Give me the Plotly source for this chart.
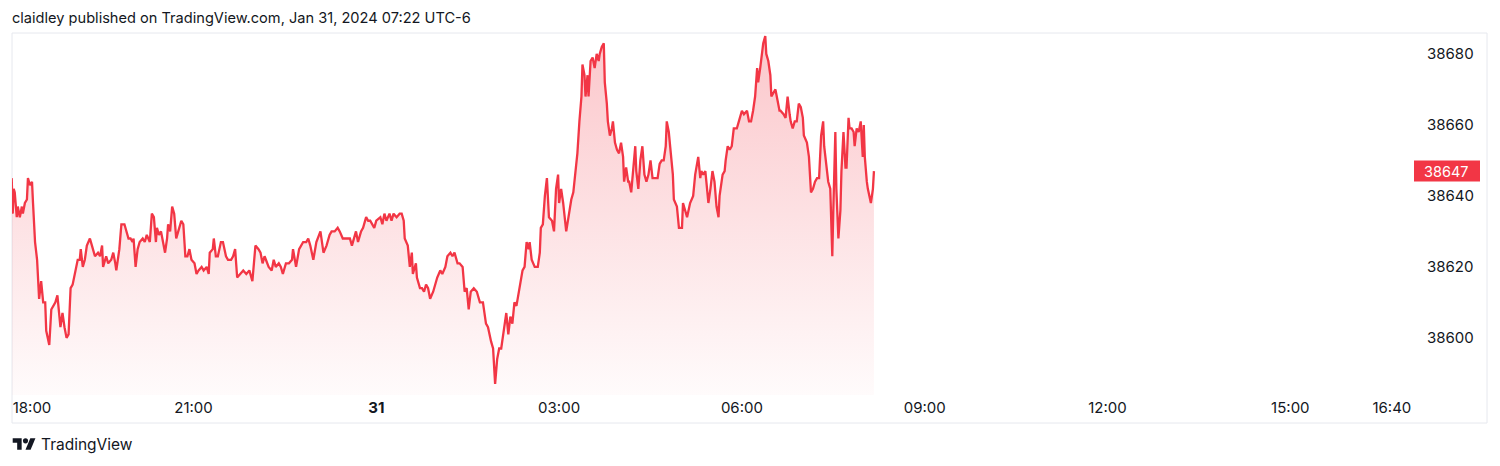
import pandas as pd
import plotly.graph_objects as go

# ---------------- data ----------------
SESSION_START = "2024-01-30 18:00"
# minutes after session start
minute_offsets = [
    1, 2, 3, 4, 6, 7, 9, 11, 12, 14, 16, 17, 19, 21, 22, 24, 26, 27, 28, 30,
    32, 34, 35, 38, 40, 44, 46, 49, 51, 53, 55, 57, 59, 61, 63, 66, 68, 69, 71, 73,
    75, 78, 80, 83, 86, 88, 90, 91, 94, 96, 99, 101, 103, 104, 107, 109, 112, 114, 116, 118,
    120, 121, 123, 125, 127, 130, 132, 134, 137, 139, 141, 143, 144, 146, 148, 150, 152, 154, 155, 157,
    159, 161, 163, 165, 168, 170, 172, 174, 176, 178, 181, 183, 185, 188, 190, 193, 195, 196, 199, 200,
    202, 204, 207, 209, 212, 214, 217, 219, 221, 223, 226, 229, 232, 235,
    238, 241, 244, 246, 248, 250, 254, 257, 259, 261, 264, 266, 268, 271, 274, 277, 278, 281, 284, 288,
    291, 293, 295, 298, 301, 305, 308, 311, 314, 316, 319, 322, 324, 327, 331, 334, 336, 338, 340, 342,
    345, 347, 350, 352, 354, 358, 360, 364, 366, 368, 370, 373, 375, 377, 380, 383, 385, 387, 388, 391,
    393, 395, 396, 399, 400, 403, 405, 407, 409, 411, 413, 416, 418, 420, 423, 425, 428, 430, 433, 435,
    437, 440, 442, 445, 447, 449, 451, 453, 456,
    459, 462, 465, 468, 470, 473, 475, 477, 479, 481, 483, 486, 488, 490, 492, 494, 496, 498, 501, 502,
    504, 506, 508, 510, 511, 513, 516, 519, 521, 522, 524, 526, 528, 530, 533, 535, 537, 539, 540, 542,
    544, 547, 550, 552, 554, 556, 558, 560, 562, 563, 565, 566, 568, 569, 571, 573, 575, 577, 579, 580,
    582, 584, 585, 587, 588, 590, 592, 593, 595, 597, 599, 601, 603, 604, 606, 608, 609, 611, 613, 615,
    616, 618, 620, 622, 624, 626, 628, 630, 632, 634, 637, 639, 641, 643, 645, 646, 648, 650, 652, 653,
    656, 658, 661, 662, 664, 666, 669, 672, 674, 676, 677, 679, 680, 682, 684, 685, 687, 689, 691, 693,
    695, 697, 698, 701, 703, 704, 706, 708, 710, 712, 714, 715, 717, 720, 722, 725, 727, 729, 731, 733,
    735, 736, 738, 740, 741, 743, 744, 746, 748, 749, 751, 753, 755, 757, 758, 761, 763, 765, 767, 768,
    770, 772, 774, 776, 778, 780, 781, 784, 786, 788, 790, 792, 794, 796, 798, 800, 801, 803, 805, 807,
    808, 809, 810, 812, 813, 815, 817, 818, 820, 822, 823, 825, 826, 828, 830, 831, 833, 835, 837, 839,
    840, 841, 843, 844, 847, 849, 850,
]
prices = [
    38645, 38635, 38642, 38641, 38634, 38637, 38634, 38637, 38635, 38638,
    38639, 38645, 38643, 38644, 38638, 38627, 38622, 38614, 38611, 38616,
    38610, 38610, 38602, 38598, 38608, 38610, 38612, 38603, 38607, 38603,
    38600, 38601, 38614, 38615, 38618, 38622, 38622, 38625, 38620, 38622,
    38626, 38628, 38626, 38623, 38624, 38623, 38626, 38620, 38623, 38621,
    38622, 38624, 38621, 38619, 38625, 38632, 38632, 38630, 38628, 38628,
    38627, 38628, 38620, 38625, 38627, 38628, 38627, 38629, 38627, 38635,
    38634, 38627, 38631, 38629, 38630, 38627, 38624, 38628, 38632, 38630,
    38637, 38635, 38628, 38630, 38633, 38632, 38623, 38623, 38625, 38622,
    38621, 38618, 38619, 38620, 38619, 38620, 38618, 38624, 38625, 38628,
    38623, 38623, 38627, 38627, 38623, 38622, 38622, 38623, 38625, 38617,
    38618, 38619, 38618, 38619,
    38616, 38626, 38625, 38624, 38621, 38623, 38620, 38619, 38622, 38620,
    38621, 38620, 38618, 38621, 38621, 38622, 38625, 38620, 38625, 38627,
    38627, 38628, 38626, 38622, 38627, 38630, 38624, 38626, 38629, 38630,
    38630, 38631, 38630, 38628, 38628, 38628, 38626, 38628, 38630, 38627,
    38630, 38631, 38634, 38633, 38633, 38631, 38633, 38634, 38632, 38635,
    38633, 38635, 38633, 38635, 38634, 38635, 38635, 38633, 38628, 38626,
    38620, 38624, 38618, 38621, 38617, 38614, 38614, 38613, 38615, 38614,
    38611, 38613, 38615, 38617, 38619, 38618, 38620, 38623, 38624, 38623,
    38624, 38621, 38621, 38620, 38613, 38614, 38608, 38613, 38614,
    38613, 38610, 38610, 38604, 38603, 38599, 38597, 38587, 38594, 38597,
    38597, 38603, 38607, 38601, 38606, 38604, 38610, 38609, 38614, 38615,
    38619, 38620, 38627, 38625, 38627, 38622, 38620, 38620, 38624, 38631,
    38632, 38640, 38645, 38634, 38633, 38630, 38642, 38646, 38638, 38642,
    38638, 38630, 38636, 38639, 38641, 38646, 38652, 38661, 38668, 38677,
    38674, 38668, 38674, 38668, 38678, 38679, 38676, 38680, 38678, 38680,
    38682, 38683, 38672, 38666, 38661, 38657, 38659, 38661, 38655, 38653,
    38652, 38655, 38651, 38644, 38648, 38644, 38644, 38641, 38648, 38654,
    38647, 38642, 38650, 38654, 38646, 38644, 38646, 38650, 38645, 38645,
    38645, 38649, 38650, 38650, 38654, 38661, 38658, 38652, 38646, 38639,
    38637, 38631, 38631, 38638, 38636, 38634, 38638, 38640, 38646, 38649,
    38651, 38645, 38647, 38646, 38647, 38644, 38638, 38642, 38647, 38644,
    38637, 38634, 38640, 38646, 38647, 38650, 38654, 38653, 38654, 38659,
    38659, 38659, 38661, 38664, 38663, 38664, 38661, 38661, 38664, 38668,
    38676, 38672, 38676, 38680, 38683, 38685, 38680, 38678, 38674, 38668,
    38669, 38670, 38667, 38664, 38664, 38663, 38662, 38668, 38663, 38661,
    38659, 38661, 38661, 38666, 38665, 38662, 38657, 38655, 38651, 38641,
    38642, 38644, 38645, 38645, 38657, 38661, 38654, 38649, 38644, 38642,
    38634, 38623, 38636, 38658, 38642, 38628, 38636, 38647, 38658, 38648,
    38648, 38662, 38659, 38659, 38658, 38654, 38659, 38658, 38661, 38651,
    38660, 38651, 38644, 38642, 38638, 38642, 38647,
]

price_ticks = [38600, 38620, 38640, 38660, 38680]
# tick positions and labels of the time scale (the first label is pinned inside the pane)
time_tickvals = ["2024-01-30 18:21", "2024-01-30 21:00", "2024-01-31 00:00", "2024-01-31 03:00",
                 "2024-01-31 06:00", "2024-01-31 09:00", "2024-01-31 12:00", "2024-01-31 15:00",
                 "2024-01-31 16:40"]
time_ticktext = ["18:00", "21:00", "<b>31</b>", "03:00", "06:00", "09:00", "12:00", "15:00", "16:40"]
x_view = ["2024-01-30 18:01:18", "2024-01-31 16:59:48"]
y_view = [38583.9, 38685.9]

TITLE = "claidley published on TradingView.com, Jan 31, 2024 07:22 UTC-6"
BRAND = "TradingView"

# ---------------- figure ----------------
RED = "#f23645"
TXT = "#131722"
FONT = "Inter, Roboto, sans-serif"
W, H = 1500, 466
L, R, T, B = 12, 88, 33, 71
PW, PH = W - L - R, H - T - B


def px2x(px):
    return (px - L) / PW


def px2y(py):
    return (H - B - py) / PH


times = pd.Timestamp(SESSION_START) + pd.to_timedelta(minute_offsets, unit="min")
base = [y_view[0]] * len(times)

fig = go.Figure()
fig.add_trace(go.Scatter(x=times, y=base, mode="lines", line=dict(width=0),
                         hoverinfo="skip", showlegend=False))
fig.add_trace(go.Scatter(
    x=times, y=prices, mode="lines", line=dict(color=RED, width=2.3),
    fill="tonexty",
    fillgradient=dict(type="vertical", start=y_view[0], stop=max(prices),
                      colorscale=[[0, "rgba(242,54,69,0.02)"], [1, "rgba(242,54,69,0.28)"]]),
    showlegend=False,
))

last = prices[-1]
shapes = [
    # outer frame
    dict(type="rect", xref="paper", yref="paper", x0=px2x(12), x1=px2x(1487),
         y0=px2y(423), y1=px2y(33), line=dict(color="#e6e8ee", width=1), fillcolor="rgba(0,0,0,0)",
         layer="below"),
    # last price box
    dict(type="rect", xref="paper", yref="y", x0=px2x(1414), x1=px2x(1480),
         y0=last - 2.96, y1=last + 2.96, line=dict(width=0), fillcolor=RED),
]

# TradingView logo (viewBox 36x28), scaled into place
s = 0.64
ox, oy = 12.7, 438.3 - 4 * s


def pt(u, v):
    return f"{px2x(ox + s * u):.5f},{px2y(oy + s * v):.5f}"


logo1 = [(14, 22), (7, 22), (7, 11), (0, 11), (0, 4), (14, 4)]
logo2 = [(28, 22), (20, 22), (27.5, 4), (35.5, 4)]
for poly in (logo1, logo2):
    path = "M" + " L".join(pt(u, v) for u, v in poly) + " Z"
    shapes.append(dict(type="path", xref="paper", yref="paper", path=path,
                       fillcolor=TXT, line=dict(width=0)))
shapes.append(dict(type="circle", xref="paper", yref="paper",
                   x0=px2x(ox + s * 16), x1=px2x(ox + s * 24),
                   y0=px2y(oy + s * 12), y1=px2y(oy + s * 4),
                   fillcolor=TXT, line=dict(width=0)))

annotations = [
    dict(text=str(last), xref="paper", yref="y", x=px2x(1447), y=last, showarrow=False,
         font=dict(family=FONT, size=14.5, color="white"), xanchor="center", yanchor="middle"),
    dict(text=BRAND, xref="paper", yref="paper", x=px2x(39), y=px2y(444), showarrow=False,
         font=dict(family=FONT, size=15.5, color=TXT), xanchor="left", yanchor="middle"),
]

fig.update_layout(
    width=W, height=H,
    margin=dict(l=L, r=R, t=T, b=B),
    paper_bgcolor="white", plot_bgcolor="white",
    title=dict(text=TITLE, xref="container", yref="container", x=12 / W, y=1 - 18 / H,
               xanchor="left", yanchor="middle", font=dict(family=FONT, size=14.6, color=TXT)),
    xaxis=dict(type="date", range=x_view, tickvals=time_tickvals, ticktext=time_ticktext,
               showgrid=False, zeroline=False, showline=False, ticks="",
               tickfont=dict(family=FONT, size=15, color=TXT), ticklabelstandoff=2),
    yaxis=dict(side="right", range=y_view, tickvals=price_ticks,
               ticktext=[str(v) for v in price_ticks],
               showgrid=False, zeroline=False, showline=False, ticks="",
               tickfont=dict(family=FONT, size=15, color=TXT), ticklabelstandoff=14),
    shapes=shapes,
    annotations=annotations,
    showlegend=False,
    hovermode=False,
)

fig.write_html("out.html",
               config={"displayModeBar": False, "staticPlot": True},
               post_script="document.body.style.margin='0';document.body.style.padding='0';")
